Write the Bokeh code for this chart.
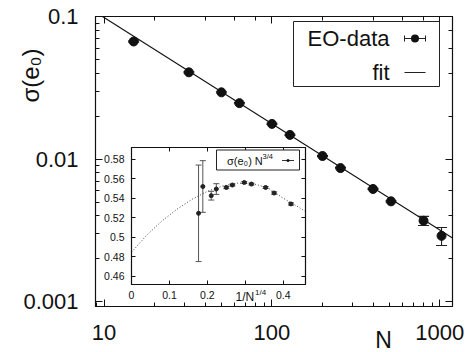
from math import pi
import numpy as np
from bokeh.plotting import figure
from bokeh.models import (ColumnDataSource, Whisker, TeeHead, LogAxis, LinearAxis,
                          LogTicker, FixedTicker, PrintfTickFormatter, Label,
                          BoxAnnotation)
from bokeh.layouts import column
from bokeh.embed import file_html
from bokeh.resources import INLINE

FONT = "Liberation Sans"

# ---------------- main panel data ----------------
N = [15, 32, 50, 64, 100, 128, 200, 256, 400, 512, 800, 1024]
sigma = [0.0668, 0.0406, 0.0294, 0.0247, 0.01766, 0.01479, 0.01052, 0.00866,
         0.00618, 0.00506, 0.0037, 0.0029]
sigma_err = [0.0007, 0.0004, 0.0003, 0.00025, 0.00018, 0.00015, 0.0001, 0.00009,
             0.00006, 0.00005, 0.00027, 0.00042]
fit_N = [9.78, 1190]
fit_sigma = [0.1, 0.0028]

# ---------------- inset data ----------------
N_inset = [1024, 800, 512, 400, 256, 200, 128, 100, 64, 50, 32]
scaled = [0.5245, 0.552, 0.5426, 0.5494, 0.551, 0.5535, 0.5561, 0.5545, 0.551, 0.5453, 0.5341]
scaled_err = [0.0495, 0.0265, 0.0045, 0.0055, 0.0012, 0.001, 0.001, 0.001, 0.001, 0.0012, 0.0012]
curve_x = [0, 0.04, 0.08, 0.12, 0.16, 0.20, 0.24, 0.28, 0.32, 0.36, 0.40, 0.44, 0.46]
curve_y = [0.4845, 0.502, 0.5166, 0.5287, 0.5390, 0.547, 0.5525, 0.5555, 0.5550,
           0.5505, 0.540, 0.531, 0.526]
inset_xticks = [0, 0.1, 0.2, 0.3, 0.4]
inset_yticks = [0.46, 0.48, 0.5, 0.52, 0.54, 0.56, 0.58]


def style_axis(ax, fs, standoff, major_in, minor_in, labels=True):
    ax.major_tick_in = major_in
    ax.major_tick_out = 0
    ax.minor_tick_in = minor_in
    ax.minor_tick_out = 0
    ax.axis_line_color = "#111111"
    ax.major_tick_line_color = "#111111"
    ax.minor_tick_line_color = "#111111"
    ax.major_label_text_font = FONT
    ax.major_label_text_color = "#111111"
    if labels:
        ax.major_label_text_font_size = fs
        ax.major_label_standoff = standoff
    else:
        ax.major_label_text_font_size = "1px"
        ax.major_label_text_color = None
        ax.major_label_standoff = 0


def sbox(fig, left, right, top, bottom, color="#111111", radius=0, fill=True, line=None, lw=1):
    fig.add_layout(BoxAnnotation(left=left, right=right, top=top, bottom=bottom,
                                 left_units="screen", right_units="screen",
                                 top_units="screen", bottom_units="screen",
                                 fill_color=color if fill else None,
                                 fill_alpha=1 if fill else 0,
                                 line_color=line, line_alpha=1 if line else 0,
                                 line_width=lw, border_radius=radius))


def slabel(fig, x, y, text, size, align="left", angle=0):
    fig.add_layout(Label(x=x, y=y, x_units="screen", y_units="screen", text=text,
                         text_font=FONT, text_font_size=size, text_align=align,
                         text_baseline="middle", angle=angle, text_color="#111111"))


def overlay(left):
    f = figure(width=472, height=352, x_range=(0, 1), y_range=(0, 1),
               x_axis_location=None, y_axis_location=None,
               output_backend="svg", toolbar_location=None,
               min_border_left=95, min_border_right=20, min_border_top=0, min_border_bottom=0)
    f.grid.visible = False
    f.outline_line_color = None
    f.background_fill_alpha = 0
    f.border_fill_alpha = 0
    f.styles = {"position": "absolute", "left": f"{left}px", "top": "0px"}
    return f


# ================= main figure =================
s = np.array(sigma)
e = np.array(sigma_err)
main_src = ColumnDataSource(dict(N=N, s=sigma, lo=s - e, hi=s + e))

p = figure(width=472, height=352, x_axis_type="log", y_axis_type="log",
           x_range=(8.89, 1190), y_range=(0.000927, 0.1),
           output_backend="svg", toolbar_location=None,
           min_border_left=95, min_border_right=20, min_border_top=16, min_border_bottom=46)
p.grid.visible = False
p.outline_line_color = "#111111"
p.outline_line_width = 1.2
p.background_fill_color = "white"

fmt = PrintfTickFormatter(format="%g")
p.xaxis.formatter = fmt
p.yaxis.formatter = fmt
style_axis(p.xaxis[0], "22px", 18, 7, 4)
style_axis(p.yaxis[0], "22px", 17, 7, 4)
p.add_layout(LogAxis(ticker=LogTicker()), "right")
p.add_layout(LogAxis(ticker=LogTicker()), "above")
style_axis(p.right[0], "1px", 0, 7, 4, labels=False)
style_axis(p.above[0], "1px", 0, 7, 4, labels=False)

p.line(fit_N, fit_sigma, line_color="#111111", line_width=1.1)
p.add_layout(Whisker(source=main_src, base="N", upper="hi", lower="lo", dimension="height",
                     line_color="#222222", line_width=1.1,
                     upper_head=TeeHead(size=11, line_color="#222222", line_width=1.1),
                     lower_head=TeeHead(size=11, line_color="#222222", line_width=1.1)))
p.scatter("N", "s", source=main_src, size=9, color="#111111")

# legend (frame-relative screen units)
sbox(p, 198, 344, 285, 220, fill=False, line="#222222", lw=1)
slabel(p, 294, 268, "EO-data", "22px", "right")
slabel(p, 294, 234, "fit", "22px", "right")
sbox(p, 309, 330, 268.5, 267.5, color="#222222")
sbox(p, 308.5, 309.5, 271, 265, color="#222222")
sbox(p, 329.5, 330.5, 271, 265, color="#222222")
sbox(p, 309, 330, 234.5, 233.5, color="#222222")
sbox(p, 315.5, 323.5, 272, 264, color="#111111", radius=4)

# ================= inset figure =================
# (column layout aligns left/right borders with the main plot: 95 / 20 px)
ix = np.array(N_inset, dtype=float) ** -0.25
sc = np.array(scaled)
se = np.array(scaled_err)
in_src = ColumnDataSource(dict(x=ix, y=scaled, lo=sc - se, hi=sc + se))

q = figure(width=289, height=158, x_range=(0, 0.4587), y_range=(0.4515, 0.592),
           output_backend="svg", toolbar_location=None,
           min_border_left=95, min_border_right=20, min_border_top=2, min_border_bottom=19)
q.grid.visible = False
q.outline_line_color = "#111111"
q.outline_line_width = 1.2
q.background_fill_color = "white"
q.border_fill_alpha = 0

q.xaxis.ticker = FixedTicker(ticks=inset_xticks, minor_ticks=[])
q.yaxis.ticker = FixedTicker(ticks=inset_yticks, minor_ticks=[])
q.xaxis.formatter = PrintfTickFormatter(format="%g")
q.yaxis.formatter = PrintfTickFormatter(format="%g")
q.xaxis.major_label_overrides = {0.3: ""}
style_axis(q.xaxis[0], "10.5px", 6, 4, 0)
style_axis(q.yaxis[0], "10.5px", 7, 4, 0)
q.add_layout(LinearAxis(ticker=FixedTicker(ticks=inset_xticks, minor_ticks=[])), "above")
q.add_layout(LinearAxis(ticker=FixedTicker(ticks=inset_yticks, minor_ticks=[])), "right")
style_axis(q.above[0], "1px", 0, 4, 0, labels=False)
style_axis(q.right[0], "1px", 0, 4, 0, labels=False)

q.line(curve_x, curve_y, line_color="#444444", line_width=1, line_dash="1 2")
q.add_layout(Whisker(source=in_src, base="x", upper="hi", lower="lo", dimension="height",
                     line_color="#555555", line_width=1,
                     upper_head=TeeHead(size=6, line_color="#555555", line_width=1),
                     lower_head=TeeHead(size=6, line_color="#555555", line_width=1)))
q.scatter("x", "y", source=in_src, size=4, color="#222222")

# inset legend (inside inset frame)
sbox(q, 85, 168, 134.5, 114.5, color="white", line="#222222", lw=1)
slabel(q, 95.5, 123.5, "σ(e₀) N", "11px")
slabel(q, 131, 128, "3/4", "7.5px")
sbox(q, 150.5, 162.5, 124.5, 123.5, color="#333333")
sbox(q, 155, 158, 125.5, 122.5, color="#111111", radius=2)

q.styles = {"position": "absolute", "left": "36px", "top": "145px"}

# ================= text overlays =================
# overlay A: shifted left so its frame spans page x 0..357 (y from page bottom 352)
oa = overlay(-95)
slabel(oa, 30, 277, "σ(e₀)", "24px", "center", angle=pi / 2)
slabel(oa, 235, 55.3, "1/N", "12px")
slabel(oa, 254.5, 60.5, "1/4", "8px")

# overlay B: frame spans page x 95..452
ob = overlay(0)
slabel(ob, 288, 13, "N", "23px", "center")

layout = column(p, q, oa, ob)
open("out.html", "w").write(file_html(layout, INLINE))
